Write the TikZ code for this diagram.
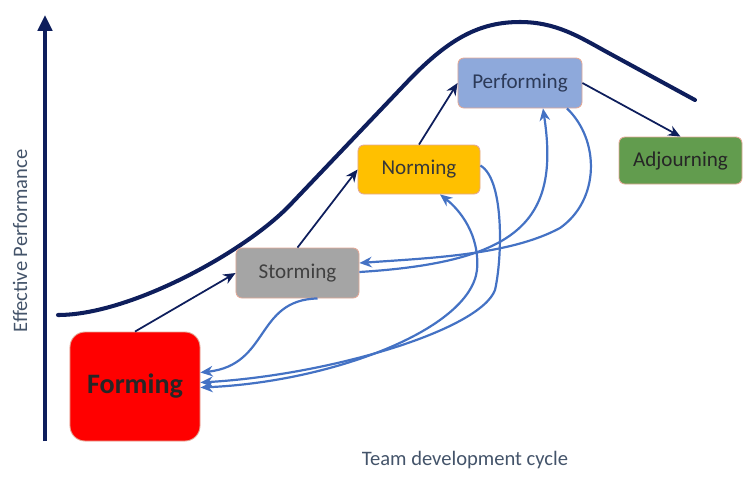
\documentclass[tikz,border=0pt]{standalone}
\usepackage{fontspec}
\setmainfont{Carlito}
\usetikzlibrary{arrows.meta}

\definecolor{navy}{RGB}{14,30,92}
\definecolor{loopblue}{RGB}{68,114,196}
\definecolor{labelgrey}{RGB}{68,84,106}
\definecolor{stageline}{RGB}{226,168,150}
\definecolor{stormgrey}{RGB}{165,165,165}
\definecolor{normgold}{RGB}{255,192,0}
\definecolor{perfblue}{RGB}{142,169,219}
\definecolor{adjgreen}{RGB}{98,156,78}

\begin{document}
\begin{tikzpicture}[x=0.2mm,y=-0.2mm,
  stage/.style={draw=stageline, line width=0.5pt, rounded corners=1.2mm,
    minimum width=24.6mm, minimum height=10mm, inner sep=0pt,
    text=black!78, font=\fontsize{12}{14}\selectfont},
  navyarrow/.style={draw=navy, line width=1pt, -{Stealth[length=7pt,width=6pt]}},
  loop/.style={draw=loopblue, line width=1.25pt, -{Stealth[length=7pt,width=6pt]}},
  axislabel/.style={text=labelgrey, font=\fontsize{11.7}{14}\selectfont}]
\useasboundingbox (0,0) rectangle (745,488);

% axis and curve
\coordinate (origin) at (45,441);
\coordinate (ytop) at (45,15);
\draw[navy, line width=2.3pt, -{Triangle[length=9pt,width=8pt]}] (origin) -- (ytop);
\draw[navy, line width=2.3pt, line cap=round] (58,315) .. controls (130,315) and (245,252) .. (290,205)
  -- (410,79) .. controls (450,38) and (480,22) .. (520,22)
  .. controls (555,22) and (578,36) .. (605,51) -- (695,100);
\node[axislabel, rotate=90] (ylabel) at (20,241) {Effective Performance};
\node[axislabel] (xlabel) at (465,460) {Team development cycle};

% stages
\node[stage, fill=red, minimum width=26mm, minimum height=21.8mm, rounded corners=3mm,
  text=black!85, font=\fontsize{16}{18}\selectfont\bfseries] (forming) at (135,386.5) {Forming};
\node[stage, fill=stormgrey, text=black!75] (storming) at (297.5,273) {Storming};
\node[stage, fill=normgold, minimum width=24.4mm, minimum height=9.8mm] (norming) at (419,169.5) {Norming};
\node[stage, fill=perfblue, minimum width=24.8mm, text={rgb,255:red,44;green,58;blue,88}] (performing) at (520,83) {Performing};
\node[stage, fill=adjgreen, minimum height=9.4mm, text=black!85] (adjourning) at (680.5,160.5) {Adjourning};

% forward steps
\path[navyarrow] (forming.north) -- (storming.west);
\path[navyarrow] (storming.north) -- (norming.west);
\path[navyarrow] (norming.north) -- (performing.west);
\path[navyarrow] (performing.east) -- (adjourning.north);

% going back
\path[loop] ([xshift=4mm]storming.south) .. controls (255,300) and (270,365) .. ([yshift=2.8mm]forming.east);
\path[loop] ([yshift=0.2mm]storming.east) .. controls (520,262) and (560,220) .. ([xshift=4.6mm]performing.south);
\path[loop] ([xshift=9.4mm]performing.south) .. controls (600,140) and (600,200) .. (560,228)
  .. controls (510,255) and (430,258) .. ([yshift=2mm]storming.east);
\path[loop] ([yshift=0.8mm]norming.east) .. controls (505,180) and (502,260) .. (495,290)
  .. controls (480,330) and (330,375) .. ([yshift=0.8mm]forming.east);
\path[loop, {Stealth[length=7pt,width=6pt]}-{Stealth[length=7pt,width=6pt]}] ([yshift=-0.2mm]forming.east)
  .. controls (330,382) and (470,330) .. (477,270) .. controls (480,235) and (460,210) .. ([xshift=4.2mm]norming.south);
\end{tikzpicture}
\end{document}
